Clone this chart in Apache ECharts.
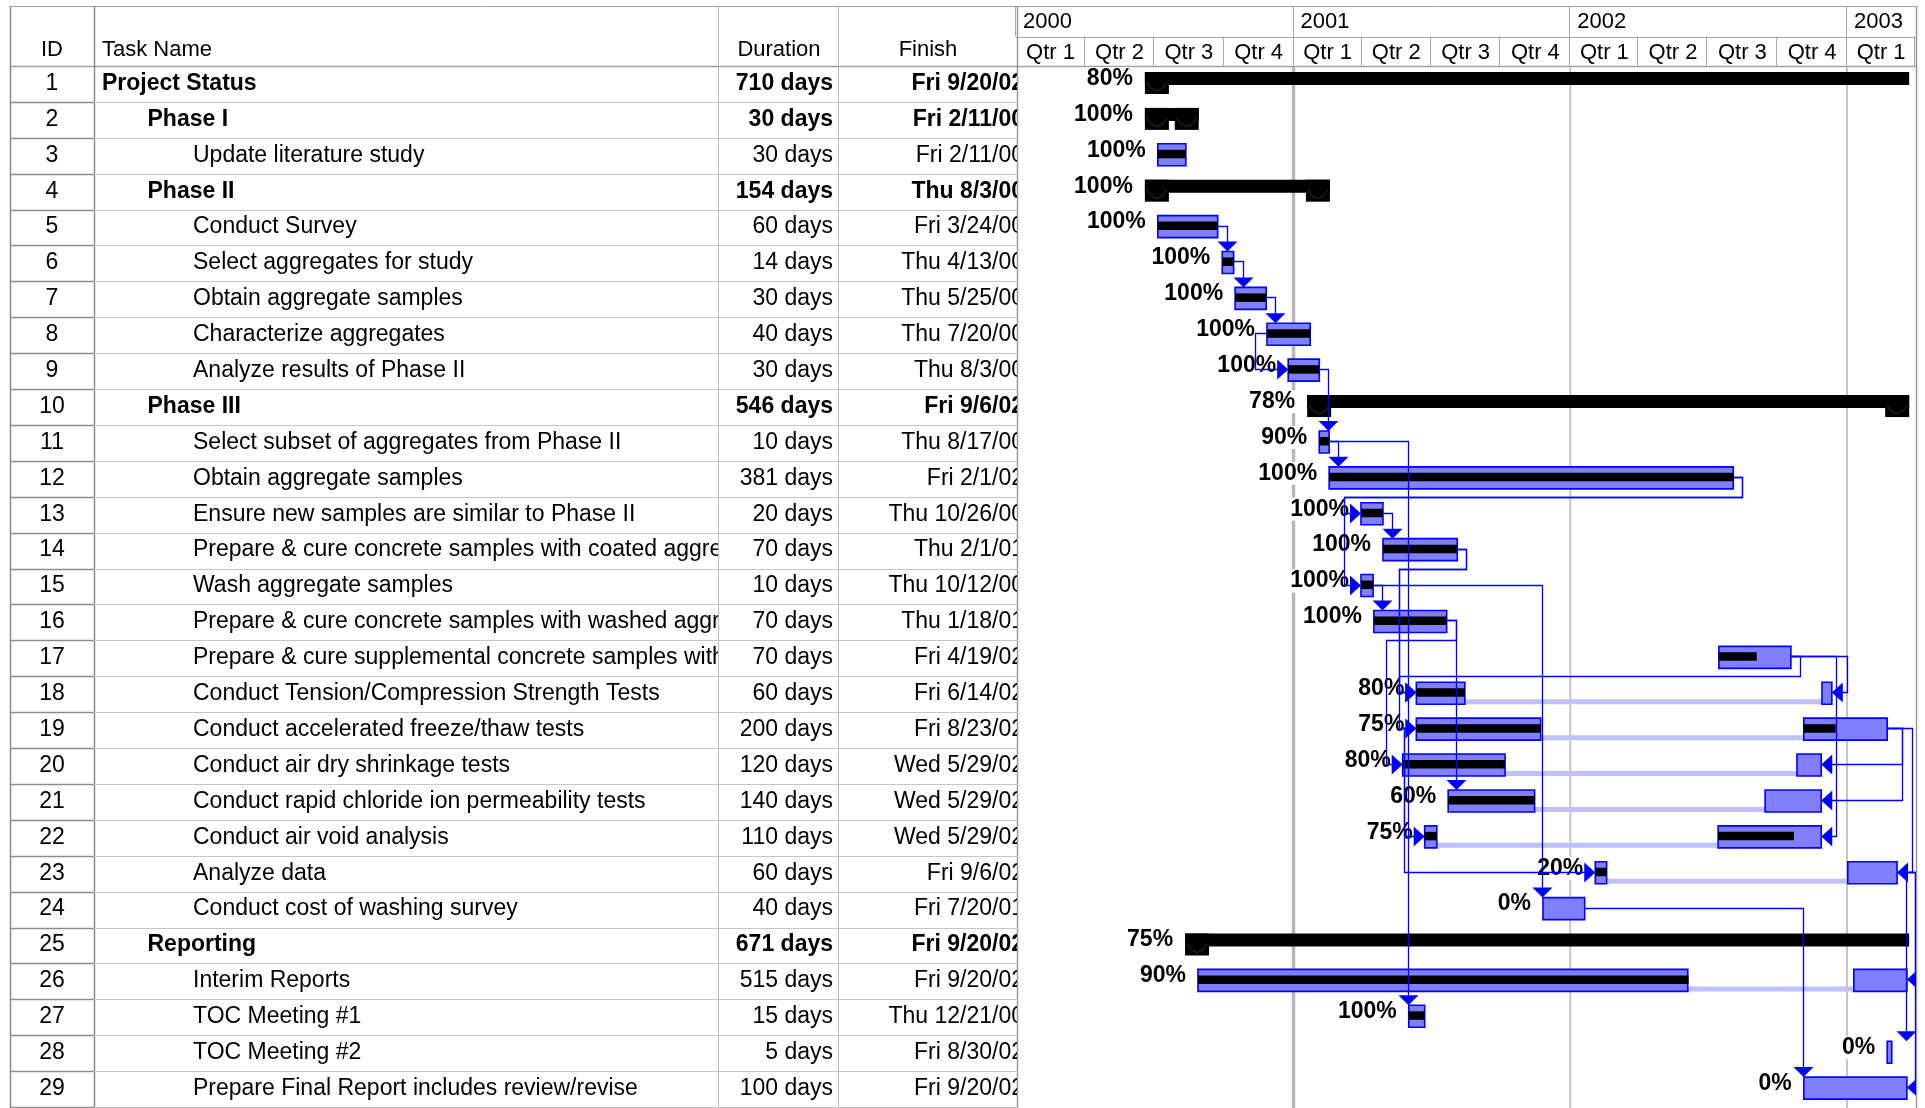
<!DOCTYPE html>
<html><head><meta charset="utf-8">
<script src="https://cdn.jsdelivr.net/npm/echarts@6/dist/echarts.min.js"></script>
<style>html,body{margin:0;padding:0;background:#fff;overflow:hidden}#c{width:1925px;height:1108px}</style>
</head><body><div id="c"></div>
<script>
// ---------------- DATA ----------------
const IDS = [1,2,3,4,5,6,7,8,9,10,11,12,13,14,15,16,17,18,19,20,21,22,23,24,25,26,27,28,29];
const TASK_NAMES = [
  "Project Status","Phase I","Update literature study","Phase II","Conduct Survey",
  "Select aggregates for study","Obtain aggregate samples","Characterize aggregates","Analyze results of Phase II","Phase III",
  "Select subset of aggregates from Phase II","Obtain aggregate samples","Ensure new samples are similar to Phase II",
  "Prepare & cure concrete samples with coated aggregates","Wash aggregate samples",
  "Prepare & cure concrete samples with washed aggregates","Prepare & cure supplemental concrete samples with",
  "Conduct Tension/Compression Strength Tests","Conduct accelerated freeze/thaw tests","Conduct air dry shrinkage tests",
  "Conduct rapid chloride ion permeability tests","Conduct air void analysis","Analyze data","Conduct cost of washing survey",
  "Reporting","Interim Reports","TOC Meeting #1","TOC Meeting #2","Prepare Final Report includes review/revise"
];
const LEVELS = [0,1,2,1,2,2,2,2,2,1,2,2,2,2,2,2,2,2,2,2,2,2,2,2,1,2,2,2,2];
const IS_SUMMARY = [true,true,false,true,false,false,false,false,false,true,false,false,false,false,false,false,false,false,false,false,false,false,false,false,true,false,false,false,false];
const DURATIONS = ["710 days","30 days","30 days","154 days","60 days","14 days","30 days","40 days","30 days","546 days",
  "10 days","381 days","20 days","70 days","10 days","70 days","70 days","60 days","200 days","120 days",
  "140 days","110 days","60 days","40 days","671 days","515 days","15 days","5 days","100 days"];
const FINISHES = ["Fri 9/20/02","Fri 2/11/00","Fri 2/11/00","Thu 8/3/00","Fri 3/24/00","Thu 4/13/00","Thu 5/25/00","Thu 7/20/00","Thu 8/3/00","Fri 9/6/02",
  "Thu 8/17/00","Fri 2/1/02","Thu 10/26/00","Thu 2/1/01","Thu 10/12/00","Thu 1/18/01","Fri 4/19/02","Fri 6/14/02","Fri 8/23/02","Wed 5/29/02",
  "Wed 5/29/02","Wed 5/29/02","Fri 9/6/02","Fri 7/20/01","Fri 9/20/02","Fri 9/20/02","Thu 12/21/00","Fri 8/30/02","Fri 9/20/02"];
const PCT_LABELS = ["80%","100%","100%","100%","100%","100%","100%","100%","100%","78%",
  "90%","100%","100%","100%","100%","100%","","80%","75%","80%",
  "60%","75%","20%","0%","75%","90%","100%","0%","0%"];
const BAR_START = ["2000-06-19","2000-06-19","2000-07-06","2000-06-19","2000-07-06","2000-09-29","2000-10-16","2000-11-27","2000-12-25","2001-01-19",
  "2001-02-04","2001-02-17","2001-03-31","2001-04-29","2001-03-31","2001-04-17","2002-07-16","2001-06-12","2001-06-12","2001-05-25",
  "2001-07-24","2001-06-23","2002-02-03","2001-11-26","2000-08-11","2000-08-28","2001-06-02","2003-02-23","2002-11-05"];
const BAR_END = ["2003-03-24","2000-08-29","2000-08-12","2001-02-18","2000-09-23","2000-10-14","2000-11-26","2001-01-23","2001-02-04","2003-03-24",
  "2001-02-17","2002-08-04","2001-04-29","2001-08-05","2001-04-16","2001-07-22","2002-10-19","2001-08-15","2001-11-23","2001-10-07",
  "2001-11-15","2001-07-09","2002-02-18","2002-01-20","2003-03-24","2002-06-05","2001-06-23","2003-03-01","2003-03-21"];
const DONE_END = [null,null,"2000-08-12",null,"2000-09-23","2000-10-14","2000-11-26","2001-01-23","2001-02-04",null,
  "2001-02-17","2002-08-05","2001-04-29","2001-08-05","2001-04-16","2001-07-22","2002-09-04","2001-08-15","2001-11-23","2001-10-07",
  "2001-11-15","2001-07-09","2002-02-18",null,null,"2002-06-06","2001-06-23",null,null];
const SPLIT_START = [null,null,null,null,null,null,null,null,null,null,null,null,null,null,null,null,null,
  "2002-11-29","2002-11-05","2002-10-27","2002-09-15","2002-07-15","2003-01-02",null,null,"2003-01-10",null,null,null];
const SPLIT_END = [null,null,null,null,null,null,null,null,null,null,null,null,null,null,null,null,null,
  "2002-12-12","2003-02-23","2002-11-28","2002-11-28","2002-11-28","2003-03-08",null,null,"2003-03-21",null,null,null];
const SPLIT_DONE = [null,null,null,null,null,null,null,null,null,null,null,null,null,null,null,null,null,
  null,"2002-12-17",null,null,"2002-10-23",null,null,null,null,null,null,null];
const SUMMARY_RIGHT_CAP = [false,true,false,true,false,false,false,false,false,true,false,false,false,false,false,false,false,false,false,false,false,false,false,false,false,false,false,false,false];
const LINKS_FS = [[5,6],[6,7],[7,8],[9,11],[11,12],[11,27],[12,13],[12,15],[13,14],[15,16],[15,24],[14,18],[14,19],[16,20],[16,21],[17,18],[23,28],[24,29]];
const LINKS_SS = [[8,9],[19,22],[19,23]];
const LINKS_FF = [[17,18],[17,22],[19,20],[19,21],[19,23],[23,26],[23,29]];
const YEAR_LABELS = ["2000","2001","2002","2003"];
const YEAR_STARTS = ["2000-01-01","2001-01-01","2002-01-01","2003-01-01"];
const QUARTER_LABELS = ["Qtr 1","Qtr 2","Qtr 3","Qtr 4","Qtr 1","Qtr 2","Qtr 3","Qtr 4","Qtr 1","Qtr 2","Qtr 3","Qtr 4","Qtr 1"];
const QUARTER_STARTS = ["2000-01-01","2000-04-01","2000-07-01","2000-10-01","2001-01-01","2001-04-01","2001-07-01","2001-10-01",
  "2002-01-01","2002-04-01","2002-07-01","2002-10-01","2003-01-01","2003-04-01"];
const AXIS_MIN = "2000-01-01", AXIS_MAX = "2003-04-02";
const COL_HEADERS = ["ID","Task Name","Duration","Finish"];

// ---------------- RENDERING ----------------
const ts = s => { const p = s.split('-').map(Number); return new Date(p[0], p[1] - 1, p[2]).getTime(); };
const FONT = 'Arial, "Liberation Sans", Helvetica, sans-serif';
const FS = '23px ';
const BLUE = '#0000ff', FILL = '#8080ff', LAV = '#c0c0ff';
const ROWS_H = 1044;

function txt(text, x, y, align, font, extra) {
  return { type: 'text', style: Object.assign({ text: text, x: x, y: y, align: align, verticalAlign: 'middle', font: font, fill: '#000' }, extra || {}) };
}

function renderTable(params, api) {
  const i = api.value(1);
  const top = api.coord([0, i])[1], bot = api.coord([0, i + 1])[1];
  const X = v => api.coord([v, i])[0];
  const ym = top + 16.5;
  const f = (IS_SUMMARY[i] ? 'bold ' : '') + FS + FONT;
  const by = Math.round(bot) - 0.5;
  const clip = (x0, x1, child) => ({ type: 'group', clipPath: { type: 'rect', shape: { x: x0, y: top, width: x1 - x0, height: bot - top } }, children: [child] });
  return { type: 'group', children: [
    { type: 'line', shape: { x1: X(84), y1: by, x2: X(1008), y2: by }, style: { stroke: '#c6c6c6', lineWidth: 1 } },
    { type: 'line', shape: { x1: X(0), y1: by, x2: X(84), y2: by }, style: { stroke: '#8c8c8c', lineWidth: 1.5 } },
    txt(String(IDS[i]), X(42), ym, 'center', FS + FONT),
    clip(X(85), X(708), txt(TASK_NAMES[i], X(92 + LEVELS[i] * 45.5), ym, 'left', f)),
    clip(X(709), X(828), txt(DURATIONS[i], X(823), ym, 'right', f)),
    clip(X(829), X(1007), txt(FINISHES[i], X(1014), ym, 'right', f))
  ]};
}

function renderYearLine(params, api) {
  const x = api.coord([api.value(0), 0])[0];
  const cs = params.coordSys;
  const first = params.dataIndex === 0;
  return { type: 'line', shape: { x1: x, y1: cs.y, x2: x, y2: cs.y + cs.height },
    style: { stroke: first ? '#b8b8b8' : '#c6c6c6', lineWidth: first ? 3.5 : 2 } };
}

function renderLabel(params, api) {
  const i = api.value(1);
  const x = api.coord([api.value(0), i])[0];
  const top = api.coord([api.value(0), i])[1];
  return txt(PCT_LABELS[i], x - 11, top + 11.5, 'right', 'bold ' + FS + FONT, { backgroundColor: '#fff', padding: [0, 1, 0, 1] });
}

function renderLavender(params, api) {
  const i = api.value(1);
  const top = api.coord([api.value(0), i])[1];
  const x0 = api.coord([ts(BAR_END[i]), i])[0];
  const x1 = api.coord([ts(SPLIT_START[i]), i])[0];
  return { type: 'rect', shape: { x: x0, y: top + 22, width: x1 - x0, height: 5 }, style: { fill: LAV } };
}

function renderSummary(params, api) {
  const i = api.value(1);
  const x0 = api.coord([ts(BAR_START[i]), i])[0];
  const x1 = api.coord([ts(BAR_END[i]), i])[0];
  const top = api.coord([ts(BAR_START[i]), i])[1];
  const cap = cx => [
    { type: 'rect', shape: { x: cx, y: top + 5, width: 24, height: 22 }, style: { fill: '#000' } },
    { type: 'polyline', shape: { points: [[cx + 2, top + 15], [cx + 6, top + 21], [cx + 12, top + 24], [cx + 18, top + 21], [cx + 22, top + 15]] }, style: { stroke: '#303030', lineWidth: 1, fill: null } }
  ];
  let ch = [{ type: 'rect', shape: { x: x0, y: top + 5, width: x1 - x0, height: 13 }, style: { fill: '#000' } }].concat(cap(x0));
  if (SUMMARY_RIGHT_CAP[i]) ch = ch.concat(cap(x1 - 24));
  return { type: 'group', children: ch };
}

function segment(api, i, s, e, d, top) {
  const x0 = api.coord([ts(s), i])[0], x1 = api.coord([ts(e), i])[0];
  const out = [{ type: 'rect', shape: { x: x0, y: top + 5, width: Math.max(x1 - x0, 3), height: 22 }, style: { fill: FILL, stroke: BLUE, lineWidth: 1.6 } }];
  if (d) {
    const xd = api.coord([ts(d), i])[0];
    out.push({ type: 'rect', shape: { x: x0, y: top + 11, width: xd - x0, height: 8.5 }, style: { fill: '#000' } });
  }
  return out;
}

function renderTask(params, api) {
  const i = api.value(1);
  const top = api.coord([ts(BAR_START[i]), i])[1];
  let ch = segment(api, i, BAR_START[i], BAR_END[i], DONE_END[i], top);
  if (SPLIT_START[i]) ch = ch.concat(segment(api, i, SPLIT_START[i], SPLIT_END[i], SPLIT_DONE[i], top));
  return { type: 'group', children: ch };
}

function renderLink(params, api) {
  const p = api.value(1), s = api.value(2), type = api.value(3);
  const cs = params.coordSys;
  const right = cs.x + cs.width - 1.5;
  const X = d => api.coord([ts(d), 0])[0];
  const T = r => api.coord([ts(AXIS_MIN), r])[1];
  const pS = X(BAR_START[p]), pE = X(SPLIT_END[p] || BAR_END[p]);
  const sS = X(BAR_START[s]), sE = X(SPLIT_END[s] || BAR_END[s]);
  const pTop = T(p), sTop = T(s);
  const pMid = Math.round(pTop + 15) + 0.5, sMid = Math.round(sTop + 15) + 0.5;
  let pts, arrow;
  if (type === 0) { // finish-to-start
    if (sS >= pE - 15) {
      const vx = Math.round(Math.min(right, Math.max(pE + 9, sS - 1))) + 0.5;
      const tip = sTop + 5;
      pts = [[pE, pMid], [vx, pMid], [vx, tip - 9]];
      arrow = [[vx - 10, tip - 10], [vx + 10, tip - 10], [vx, tip]];
    } else {
      const vx = Math.round(pE + 9) + 0.5, hy = Math.round(pTop + 35) + 0.5, lx = Math.round(sS - 17) + 0.5;
      pts = [[pE, pMid], [vx, pMid], [vx, hy], [lx, hy], [lx, sMid], [sS - 10, sMid]];
      arrow = [[sS - 11, sMid - 10], [sS - 11, sMid + 10], [sS, sMid]];
    }
  } else if (type === 1) { // start-to-start
    const lx = Math.round(Math.min(pS, sS) - 12) + 0.5;
    pts = [[pS, pMid], [lx, pMid], [lx, sMid], [sS - 10, sMid]];
    arrow = [[sS - 11, sMid - 10], [sS - 11, sMid + 10], [sS, sMid]];
  } else { // finish-to-finish
    const vx = Math.round(Math.min(right, Math.max(pE, sE) + 15)) + 0.5;
    pts = [[pE, pMid], [vx, pMid], [vx, sMid], [sE + 10, sMid]];
    arrow = [[sE + 11, sMid - 10], [sE + 11, sMid + 10], [sE, sMid]];
  }
  return { type: 'group', children: [
    { type: 'polyline', shape: { points: pts }, style: { stroke: BLUE, lineWidth: 1.3, fill: null } },
    { type: 'polygon', shape: { points: arrow }, style: { fill: BLUE } }
  ]};
}

function renderQuarter(params, api) {
  const k = params.dataIndex;
  const x0 = api.coord([ts(QUARTER_STARTS[k]), 1])[0];
  const x1 = api.coord([ts(QUARTER_STARTS[k + 1]), 1])[0];
  const y0 = api.coord([ts(AXIS_MIN), 1])[1], y1 = api.coord([ts(AXIS_MIN), 2])[1];
  const xl = Math.round(x1) - 0.5;
  return { type: 'group', children: [
    { type: 'line', shape: { x1: xl, y1: y0, x2: xl, y2: y1 }, style: { stroke: '#a8a8a8', lineWidth: 1 } },
    txt(QUARTER_LABELS[k], (x0 + x1) / 2, (y0 + y1) / 2 + 1, 'center', '22px ' + FONT)
  ]};
}

function renderYear(params, api) {
  const k = params.dataIndex;
  const x0 = api.coord([ts(YEAR_STARTS[k]), 0])[0];
  const y0 = api.coord([ts(AXIS_MIN), 0])[1], y1 = api.coord([ts(AXIS_MIN), 1])[1];
  const cs = params.coordSys;
  const xl = Math.round(x0) - 0.5;
  return { type: 'group', children: [
    { type: 'line', shape: { x1: xl, y1: y0, x2: xl, y2: y1 }, style: { stroke: '#a8a8a8', lineWidth: 1 } },
    { type: 'line', shape: { x1: x0, y1: Math.round(y1) + 0.5, x2: cs.x + cs.width, y2: Math.round(y1) + 0.5 }, style: { stroke: '#a8a8a8', lineWidth: 1 } },
    txt(YEAR_LABELS[k], x0 + 7, (y0 + y1) / 2 + 1, 'left', '22px ' + FONT)
  ]};
}

const rows = IDS.map((_, i) => i);
const graphic = [
  { type: 'line', shape: { x1: 10, y1: 6.5, x2: 1916, y2: 6.5 }, style: { stroke: '#a0a0a0', lineWidth: 1 } },
  { type: 'line', shape: { x1: 10, y1: 66.5, x2: 1916, y2: 66.5 }, style: { stroke: '#a0a0a0', lineWidth: 1.5 } },
  { type: 'line', shape: { x1: 10.5, y1: 6, x2: 10.5, y2: 1108 }, style: { stroke: '#8c8c8c', lineWidth: 1.5 } },
  { type: 'line', shape: { x1: 94.5, y1: 6, x2: 94.5, y2: 1108 }, style: { stroke: '#8c8c8c', lineWidth: 1.5 } },
  { type: 'line', shape: { x1: 718.5, y1: 6, x2: 718.5, y2: 1108 }, style: { stroke: '#bdbdbd', lineWidth: 1 } },
  { type: 'line', shape: { x1: 838.5, y1: 6, x2: 838.5, y2: 1108 }, style: { stroke: '#bdbdbd', lineWidth: 1 } },
  { type: 'line', shape: { x1: 1017.5, y1: 6, x2: 1017.5, y2: 1108 }, style: { stroke: '#9a9a9a', lineWidth: 1.5 } },
  { type: 'line', shape: { x1: 1916.5, y1: 6, x2: 1916.5, y2: 1108 }, style: { stroke: '#9a9a9a', lineWidth: 1.5 } },
  { type: 'text', style: { text: COL_HEADERS[0], x: 52, y: 50, align: 'center', verticalAlign: 'middle', font: '22px ' + FONT, fill: '#000' } },
  { type: 'text', style: { text: COL_HEADERS[1], x: 102, y: 50, align: 'left', verticalAlign: 'middle', font: '22px ' + FONT, fill: '#000' } },
  { type: 'text', style: { text: COL_HEADERS[2], x: 779, y: 50, align: 'center', verticalAlign: 'middle', font: '22px ' + FONT, fill: '#000' } },
  { type: 'text', style: { text: COL_HEADERS[3], x: 928, y: 50, align: 'center', verticalAlign: 'middle', font: '22px ' + FONT, fill: '#000' } }
];

const option = {
  animation: false,
  backgroundColor: '#fff',
  grid: [
    { left: 10, top: 67, width: 1008, height: ROWS_H },
    { left: 1016, top: 67, width: 900, height: ROWS_H },
    { left: 1016, top: 6, width: 900, height: 61 }
  ],
  xAxis: [
    { type: 'value', gridIndex: 0, min: 0, max: 1008, show: false },
    { type: 'time', gridIndex: 1, min: ts(AXIS_MIN), max: ts(AXIS_MAX), show: false },
    { type: 'time', gridIndex: 2, min: ts(AXIS_MIN), max: ts(AXIS_MAX), show: false }
  ],
  yAxis: [
    { type: 'value', gridIndex: 0, min: 0, max: 29, inverse: true, show: false },
    { type: 'value', gridIndex: 1, min: 0, max: 29, inverse: true, show: false },
    { type: 'value', gridIndex: 2, min: 0, max: 2, inverse: true, show: false }
  ],
  graphic: graphic,
  series: [
    { type: 'custom', xAxisIndex: 0, yAxisIndex: 0, silent: true, z: 2, renderItem: renderTable,
      data: rows.map(i => [0, i]) },
    { type: 'custom', xAxisIndex: 1, yAxisIndex: 1, silent: true, z: 1, renderItem: renderYearLine,
      data: YEAR_STARTS.slice(1).map(d => [ts(d), 0]) },
    { type: 'custom', xAxisIndex: 1, yAxisIndex: 1, silent: true, z: 2, clip: true, renderItem: renderLabel,
      data: rows.filter(i => PCT_LABELS[i]).map(i => [ts(BAR_START[i]), i]) },
    { type: 'custom', xAxisIndex: 1, yAxisIndex: 1, silent: true, z: 3, clip: true, renderItem: renderLavender,
      data: rows.filter(i => SPLIT_START[i]).map(i => [ts(BAR_END[i]), i]) },
    { type: 'custom', xAxisIndex: 1, yAxisIndex: 1, silent: true, z: 4, clip: true, renderItem: renderSummary,
      data: rows.filter(i => IS_SUMMARY[i]).map(i => [ts(BAR_START[i]), i]) },
    { type: 'custom', xAxisIndex: 1, yAxisIndex: 1, silent: true, z: 4, clip: true, renderItem: renderTask,
      data: rows.filter(i => !IS_SUMMARY[i]).map(i => [ts(BAR_START[i]), i]) },
    { type: 'custom', xAxisIndex: 1, yAxisIndex: 1, silent: true, z: 5, clip: true, renderItem: renderLink,
      data: [].concat(
        LINKS_FS.map(l => [ts(BAR_START[l[0] - 1]), l[0] - 1, l[1] - 1, 0]),
        LINKS_SS.map(l => [ts(BAR_START[l[0] - 1]), l[0] - 1, l[1] - 1, 1]),
        LINKS_FF.map(l => [ts(BAR_START[l[0] - 1]), l[0] - 1, l[1] - 1, 2])) },
    { type: 'custom', xAxisIndex: 2, yAxisIndex: 2, silent: true, z: 2, renderItem: renderYear,
      data: YEAR_STARTS.map(d => [ts(d), 0]) },
    { type: 'custom', xAxisIndex: 2, yAxisIndex: 2, silent: true, z: 2, renderItem: renderQuarter,
      data: QUARTER_STARTS.slice(0, -1).map(d => [ts(d), 1]) }
  ]
};
const chart = echarts.init(document.getElementById('c'));
chart.setOption(option);
</script>
</body></html>
